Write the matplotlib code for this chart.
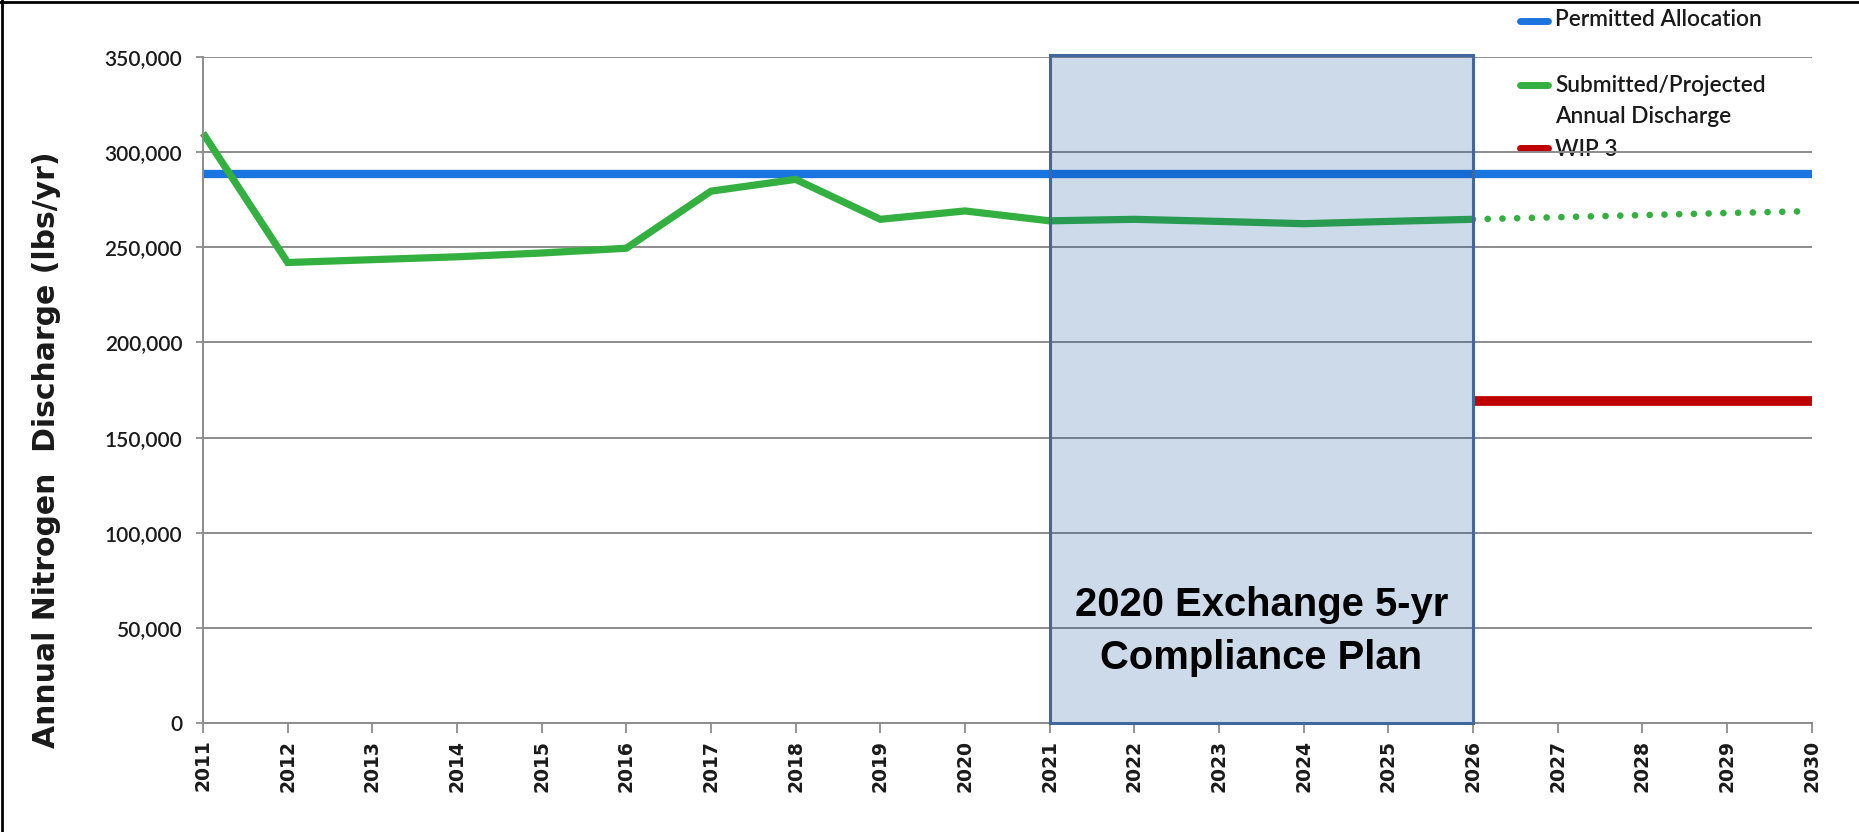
import matplotlib
matplotlib.use("Agg")
import matplotlib.pyplot as plt
from matplotlib.patches import Rectangle
from matplotlib.lines import Line2D

# ---------------- data ----------------
years = list(range(2011, 2031))
submitted_years = list(range(2011, 2027))
submitted = [310000, 242000, 243500, 245000, 247000, 249500, 279500, 285700,
             264700, 269100, 263900, 264700, 263600, 262400, 263600, 264700]
projected_years = [2026, 2027, 2028, 2029, 2030]
projected = [264700, 265800, 266900, 268000, 269000]
permitted_years = [2011, 2030]
permitted = [288600, 288600]
wip3_years = [2026, 2030]
wip3 = [169000, 169000]
plan_start, plan_end = 2021, 2026
plan_top = 351300
plan_text = ["2020 Exchange 5-yr", "Compliance Plan"]
yticks = [0, 50000, 100000, 150000, 200000, 250000, 300000, 350000]
ylabel = "Annual Nitrogen  Discharge (lbs/yr)"
legend_labels = ["Permitted Allocation", "Submitted/Projected", "Annual Discharge", "WIP 3"]

BLUE = "#1a75e0"
GREEN = "#33b040"
RED = "#c00000"
GRID = "#8c8c8c"

fig = plt.figure(figsize=(18.59, 8.32), dpi=100)
W, H = 1859, 832
ax = fig.add_axes([203 / W, (H - 723) / H, 1608.6 / W, 666 / H])

ax.set_xlim(2011, 2030)
ax.set_ylim(0, 350000)

# grid & ticks
ax.set_yticks(yticks)
ax.set_yticklabels([f"{v:,}" for v in yticks], fontfamily="Lato", fontweight=600,
                   fontsize=15, color="#1a1a1a")
ax.set_xticks(years)
ax.set_xticklabels([str(y) for y in years], rotation=90, fontfamily="DejaVu Sans",
                   fontweight="bold", fontsize=13.5, color="#1a1a1a")
ax.yaxis.grid(True, color=GRID, lw=1.4, zorder=1.5)
ax.set_axisbelow("line")
ax.tick_params(axis="y", length=5, width=1.3, color=GRID, pad=10)
ax.tick_params(axis="x", length=7, width=1.3, color=GRID, pad=5)
for s in ["top", "right"]:
    ax.spines[s].set_visible(False)
for s in ["left", "bottom"]:
    ax.spines[s].set_color(GRID)
    ax.spines[s].set_linewidth(1.4)

# data lines
ax.plot(permitted_years, permitted, color=BLUE, lw=6, solid_capstyle="butt", zorder=2)
ax.plot(submitted_years, submitted, color=GREEN, lw=5.2, solid_capstyle="butt",
        solid_joinstyle="miter", zorder=2.2, clip_on=False)
ax.plot(projected_years, projected, color=GREEN, lw=4.8, linestyle=(0, (0.01, 2.2)),
        dash_capstyle="round", zorder=2.2)
ax.plot(wip3_years, wip3, color=RED, lw=7, solid_capstyle="butt", zorder=2.1)

# compliance plan box
ax.add_patch(Rectangle((plan_start, 0), plan_end - plan_start, plan_top,
                       facecolor=(5 / 255, 70 / 255, 150 / 255, 0.2), edgecolor="none",
                       zorder=3, clip_on=False))
ax.add_patch(Rectangle((plan_start, 0), plan_end - plan_start, plan_top,
                       facecolor="none", edgecolor="#41689c", lw=2.2,
                       zorder=3.1, clip_on=False))
xc = (plan_start + plan_end) / 2
ax.text(xc, 62000, plan_text[0], ha="center", va="center", fontfamily="Liberation Sans",
        fontweight="bold", fontsize=28.8, color="black", zorder=4)
ax.text(xc, 34000, plan_text[1], ha="center", va="center", fontfamily="Liberation Sans",
        fontweight="bold", fontsize=28.8, color="black", zorder=4)

# y label
ax.set_ylabel(ylabel, fontfamily="DejaVu Sans", fontweight="bold", fontsize=21.5, color="#1a1a1a")
ax.yaxis.set_label_coords((61 - 203) / 1608.6, 0.411)

# legend (manual, under gridlines like the reference)
tf = fig.transFigure
hx0, hx1, tx = 1520 / W, 1548 / W, 1555 / W
handles = [(BLUE, 1 - 20.5 / H), (GREEN, 1 - 85 / H), (RED, 1 - 148 / H)]
for c, yy in handles:
    ax.add_line(Line2D([hx0, hx1], [yy, yy], transform=tf, color=c, lw=5,
                       solid_capstyle="round", clip_on=False, zorder=1))
text_y = [1 - 20 / H, 1 - 85 / H, 1 - 116.7 / H, 1 - 150 / H]
for lab, yy in zip(legend_labels, text_y):
    ax.text(tx, yy, lab, transform=tf, ha="left", va="center", fontfamily="Lato",
            fontweight=600, fontsize=16.3, color="#1a1a1a", zorder=1, clip_on=False)

# frame (left & top border of the original image)
fig.add_artist(Line2D([1.5 / W, 1.5 / W], [0, 1], transform=tf, color="black", lw=2))
fig.add_artist(Line2D([0, 1], [1 - 1.5 / H, 1 - 1.5 / H], transform=tf, color="black", lw=2))

fig.savefig("out.png", dpi=100)
